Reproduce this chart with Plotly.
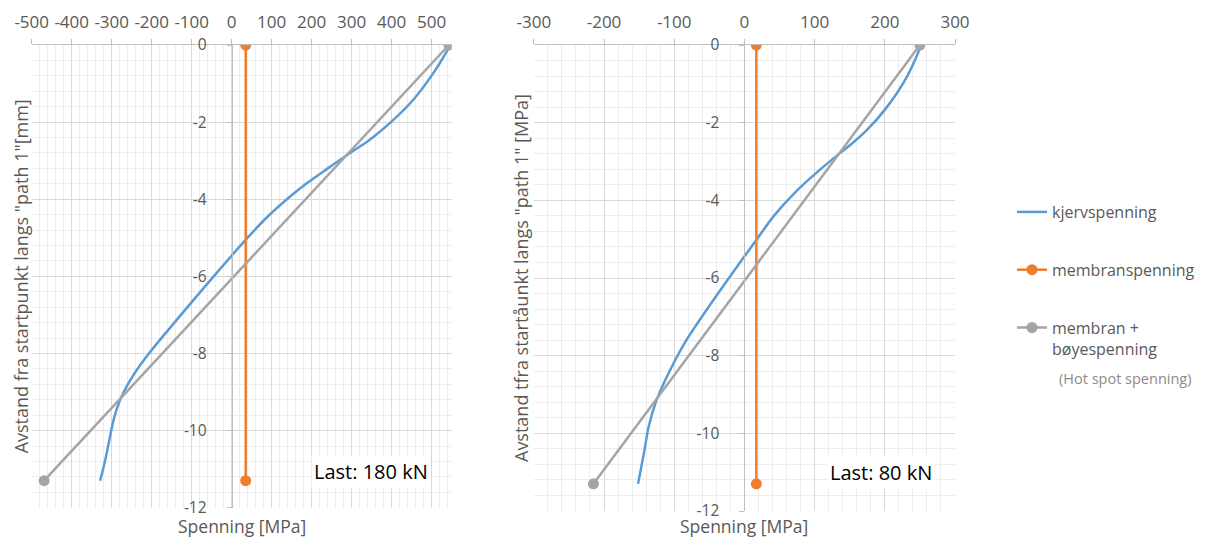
import plotly.graph_objects as go

# ---------------- data ----------------
# Left chart (Last: 180 kN)
LEFT_KJ_Y = [0, -0.73, -1.42, -2.02, -2.45, -2.8, -3.2, -3.6, -4.0, -4.5, -5.03,
             -6.0, -7.0, -8.0, -8.5, -9.0, -9.4, -9.8, -10.3, -10.8, -11.3]
LEFT_KJ_X = [547, 504, 454, 396, 346, 296, 240, 186, 138, 85, 37,
             -45, -127, -207, -242, -270, -286, -297, -307, -317, -329]
LEFT_MEM_Y = [0, -11.3]
LEFT_MEM_X = [35, 35]
LEFT_HS_Y = [0, -11.3]
LEFT_HS_X = [543, -469]

# Right chart (Last: 80 kN)
RIGHT_KJ_Y = [0, -0.8, -1.6, -2.2, -2.6, -2.83, -3.3, -3.8, -4.4, -5.02, -6.0,
              -6.8, -7.7, -8.6, -9.14, -9.8, -10.5, -11.3]
RIGHT_KJ_X = [252, 232, 203, 174, 149, 133, 102, 72, 42, 17, -22,
              -53, -86, -112, -125, -136, -143, -151.5]
RIGHT_MEM_Y = [0, -11.3]
RIGHT_MEM_X = [17, 17]
RIGHT_HS_Y = [0, -11.3]
RIGHT_HS_X = [250, -215]

LEFT_XTICKS = [-500, -400, -300, -200, -100, 0, 100, 200, 300, 400, 500]
RIGHT_XTICKS = [-300, -200, -100, 0, 100, 200, 300]
YTICKS = [0, -2, -4, -6, -8, -10, -12]

SERIES_NAMES = ["kjervspenning", "membranspenning", "membran +<br>bøyespenning"]
LOADS = ["Last: 180 kN", "Last: 80 kN"]
Y_TITLES = ['Avstand fra startpunkt langs "path 1"[mm]',
            'Avstand tfra startåunkt langs "path 1" [MPa]']
X_TITLE = "Spenning [MPa]"
NOTE = "(Hot spot spenning)"

# ---------------- style ----------------
BLUE = "#5B9BD5"
ORANGE = "#ED7D31"
GRAY = "#A5A5A5"
FONT = "Open Sans"
TXT = "#595959"
W, H = 1207, 539
OFF = 8  # default page body margin
FW, FH = W - OFF, H - OFF


def lbl(v):
    return str(v).replace("\u2212", "-")


fig = go.Figure()


def add_series(kx, ky, mx, my, hx, hy, xa, ya, show):
    fig.add_trace(go.Scatter(x=kx, y=ky, mode="lines", name=SERIES_NAMES[0],
                             line=dict(color=BLUE, width=2.5, shape="spline", smoothing=1.0),
                             xaxis=xa, yaxis=ya, showlegend=show, legendgroup="a"))
    fig.add_trace(go.Scatter(x=mx, y=my, mode="lines+markers", name=SERIES_NAMES[1],
                             line=dict(color=ORANGE, width=2.5),
                             marker=dict(color=ORANGE, size=11),
                             xaxis=xa, yaxis=ya, showlegend=show, legendgroup="b"))
    fig.add_trace(go.Scatter(x=hx, y=hy, mode="lines+markers", name=SERIES_NAMES[2],
                             line=dict(color=GRAY, width=2.5),
                             marker=dict(color=GRAY, size=11),
                             xaxis=xa, yaxis=ya, showlegend=show, legendgroup="c"))


add_series(LEFT_KJ_X, LEFT_KJ_Y, LEFT_MEM_X, LEFT_MEM_Y, LEFT_HS_X, LEFT_HS_Y, "x", "y", True)
add_series(RIGHT_KJ_X, RIGHT_KJ_Y, RIGHT_MEM_X, RIGHT_MEM_Y, RIGHT_HS_X, RIGHT_HS_Y, "x2", "y2", False)

# pixel geometry (page pixels)
L_X0, L_X1 = 31.7, 451.7
R_X0, R_X1 = 533.8, 955.0
TOP = 45.0
L_BOT, R_BOT = 507.7, 511.0


def px(v):
    return (v - OFF) / FW


def py(v):
    return 1 - (v - OFF) / FH


def xaxis_cfg(dom, rng, ticks, anchor):
    return dict(domain=[px(dom[0]), px(dom[1])], range=rng, side="top", anchor=anchor,
                automargin=False,
                tickmode="array", tickvals=ticks, ticktext=[lbl(t) for t in ticks],
                showgrid=True, gridcolor="#d9d9d9", gridwidth=1,
                minor=dict(tickmode="linear", tick0=rng[0], dtick=20, showgrid=True,
                           gridcolor="#ededed", gridwidth=1),
                showline=True, linecolor="#bfbfbf", linewidth=1,
                ticks="outside", ticklen=5, tickcolor="#bfbfbf", ticklabelstandoff=4,
                zeroline=False, fixedrange=True,
                tickfont=dict(family=FONT, size=17, color=TXT))


def yaxis_cfg(dom_bot, zero_px):
    return dict(domain=[py(dom_bot), py(TOP)], range=[-12, 0], anchor="free",
                position=px(zero_px), automargin=False,
                tickmode="array", tickvals=YTICKS, ticktext=[lbl(t) for t in YTICKS],
                showgrid=True, gridcolor="#d9d9d9", gridwidth=1,
                minor=dict(tickmode="linear", tick0=0, dtick=0.4, showgrid=True,
                           gridcolor="#ededed", gridwidth=1),
                showline=True, linecolor="#bfbfbf", linewidth=1,
                ticks="outside", ticklen=5, tickcolor="#bfbfbf", ticklabelstandoff=17,
                zeroline=False, fixedrange=True,
                tickfont=dict(family=FONT, size=15.5, color=TXT))


L_ZERO = L_X0 + (0 - (-500)) / 1050 * (L_X1 - L_X0)
R_ZERO = R_X0 + (0 - (-300)) / 600 * (R_X1 - R_X0)

fig.update_layout(
    width=FW, height=FH,
    margin=dict(l=0, r=0, t=0, b=0, autoexpand=False),
    paper_bgcolor="white", plot_bgcolor="white",
    font=dict(family=FONT, color=TXT),
    xaxis=xaxis_cfg((L_X0, L_X1), [-500, 550], LEFT_XTICKS, "y"),
    yaxis=yaxis_cfg(L_BOT, L_ZERO),
    xaxis2=xaxis_cfg((R_X0, R_X1), [-300, 300], RIGHT_XTICKS, "y2"),
    yaxis2=yaxis_cfg(R_BOT, R_ZERO),
    showlegend=True,
    legend=dict(x=px(1012), y=py(195), xanchor="left", yanchor="top",
                font=dict(family=FONT, size=16, color=TXT),
                tracegroupgap=34, valign="top", bgcolor="rgba(0,0,0,0)",
                itemclick=False, itemdoubleclick=False),
)

ann = []
# y titles
ann.append(dict(text=Y_TITLES[0], x=px(21), y=py((TOP + L_BOT) / 2), xref="paper", yref="paper",
                textangle=-90, showarrow=False, font=dict(family=FONT, size=18, color=TXT),
                xanchor="center", yanchor="middle", borderpad=0))
ann.append(dict(text=Y_TITLES[1], x=px(521), y=py((TOP + R_BOT) / 2), xref="paper", yref="paper",
                textangle=-90, showarrow=False, font=dict(family=FONT, size=18, color=TXT),
                xanchor="center", yanchor="middle", borderpad=0))
# x titles
ann.append(dict(text=X_TITLE, x=px((L_X0 + L_X1) / 2), y=py(539), xref="paper", yref="paper",
                showarrow=False, font=dict(family=FONT, size=17.5, color=TXT),
                xanchor="center", yanchor="bottom", borderpad=0))
ann.append(dict(text=X_TITLE, x=px((R_X0 + R_X1) / 2), y=py(539), xref="paper", yref="paper",
                showarrow=False, font=dict(family=FONT, size=17.5, color=TXT),
                xanchor="center", yanchor="bottom", borderpad=0))
# load labels
ann.append(dict(text=LOADS[0], x=px(371), y=py(471), xref="paper", yref="paper",
                showarrow=False, font=dict(family=FONT, size=20, color="#000000"),
                bgcolor="white", xanchor="center", yanchor="middle", borderpad=2))
ann.append(dict(text=LOADS[1], x=px(881), y=py(472), xref="paper", yref="paper",
                showarrow=False, font=dict(family=FONT, size=20, color="#000000"),
                bgcolor="white", xanchor="center", yanchor="middle", borderpad=2))
# note under legend
ann.append(dict(text=NOTE, x=px(1057), y=py(378), xref="paper", yref="paper",
                showarrow=False, font=dict(family=FONT, size=14.5, color="#8c8c8c"),
                xanchor="left", yanchor="middle"))
fig.update_layout(annotations=ann)

fig.write_html("out.html", config=dict(displayModeBar=False))
